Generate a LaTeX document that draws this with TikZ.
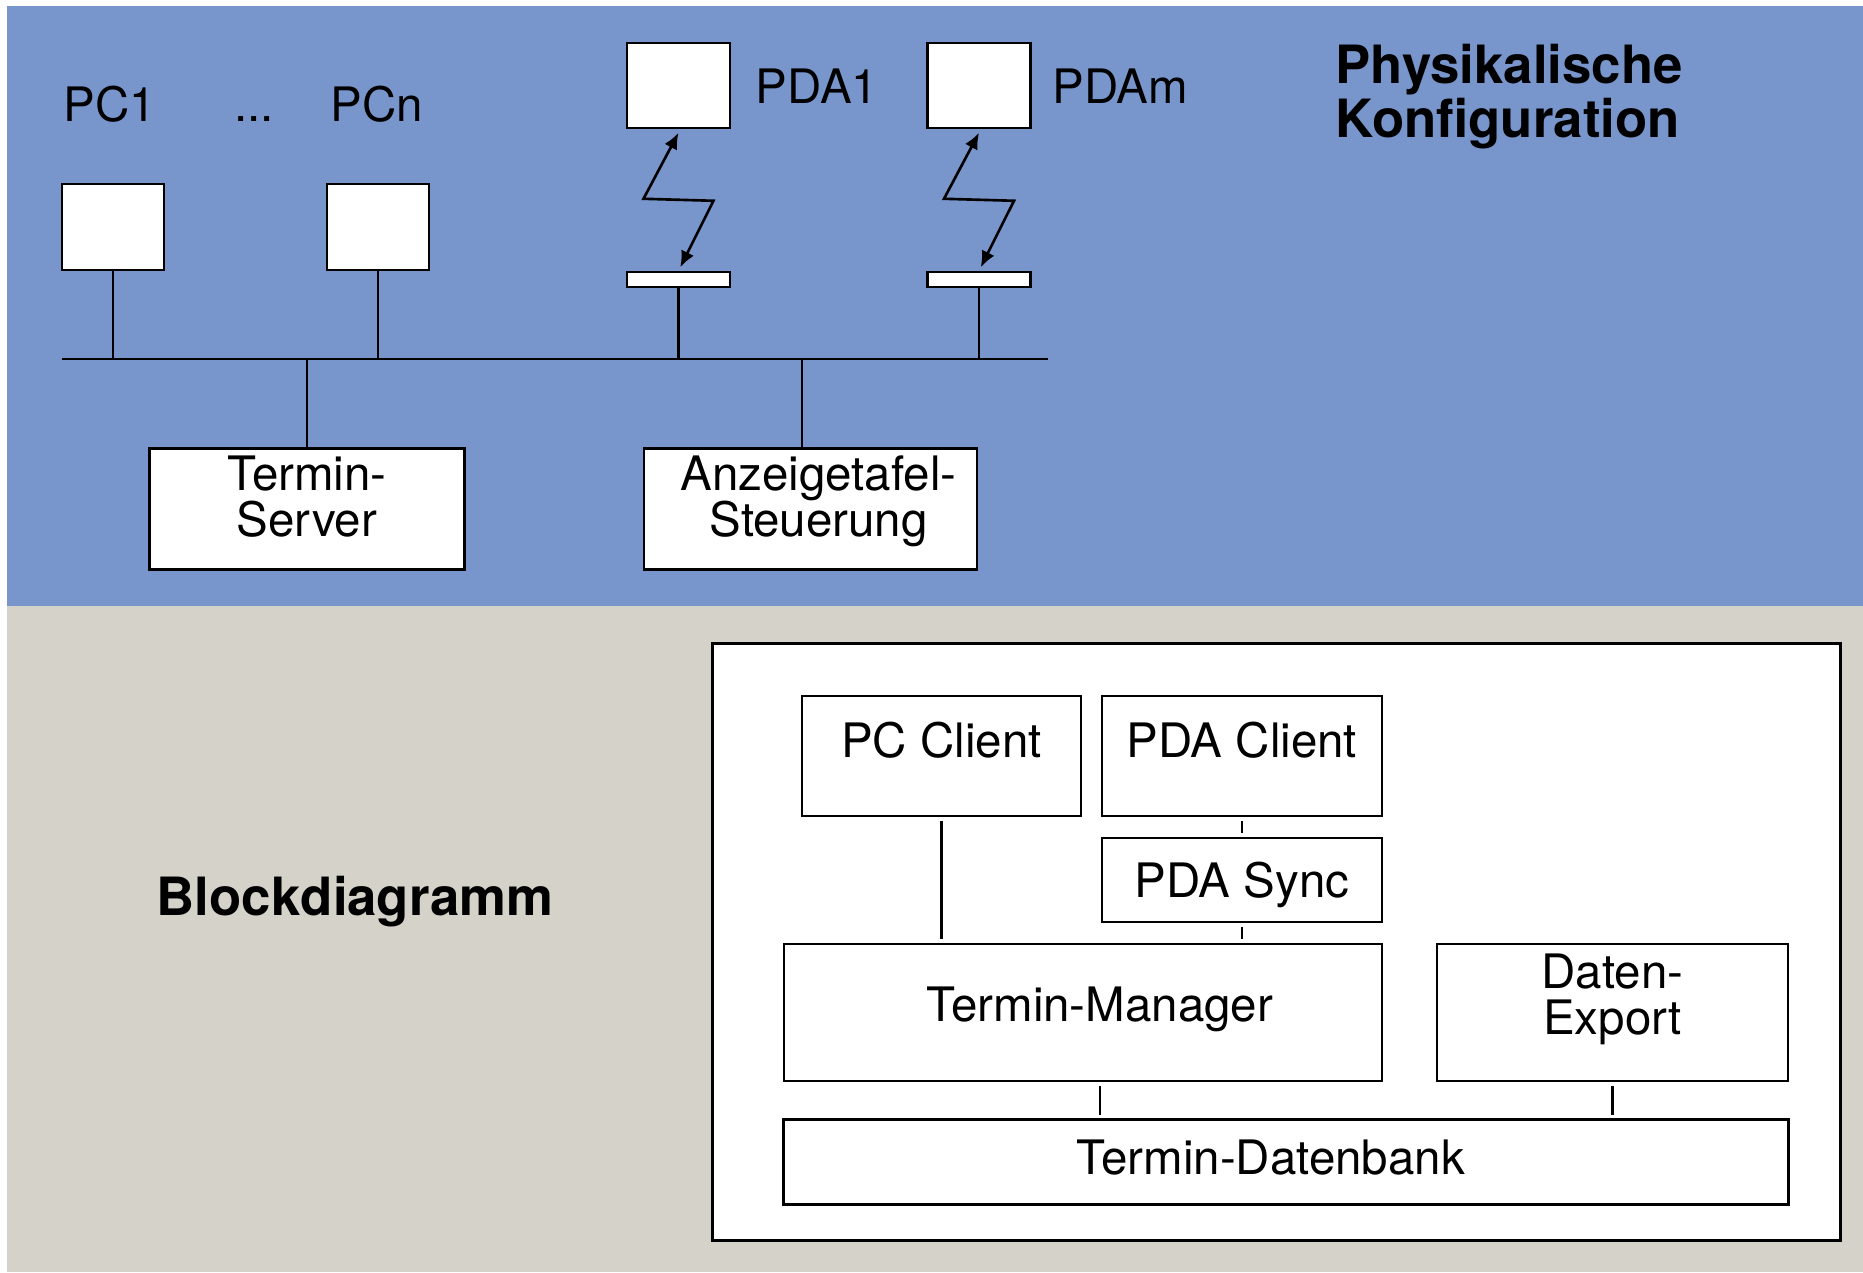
\documentclass[tikz,border=0pt]{standalone}
\usepackage{fontspec}
\setmainfont{TeX Gyre Heros}
\usetikzlibrary{arrows.meta}

\definecolor{physblue}{RGB}{120,149,204}
\definecolor{blockgrey}{RGB}{213,210,202}

\tikzset{
	box/.style={draw=black, fill=white, line width=0.7pt, inner sep=0pt},
	txt/.style={align=center, inner sep=0pt, font=\fontsize{13.5pt}{13.1pt}\selectfont},
	heading/.style={align=left, inner sep=0pt, font=\fontsize{15pt}{13.6pt}\selectfont\bfseries},
	wire/.style={line width=0.7pt},
	link/.style={line width=0.6pt, shorten <=1pt, shorten >=1pt},
	zap/.style={line width=0.75pt, {Latex[length=4.6pt,width=4pt]}-{Latex[length=4.6pt,width=4pt]}},
}

\begin{document}
\begin{tikzpicture}[x=0.01cm, y=-0.01cm]
	\useasboundingbox (0,0) rectangle (1863,1272);
	\fill[physblue]  (7,6)   rectangle (1863,606);
	\fill[blockgrey] (7,606) rectangle (1863,1272);

	% physikalische Konfiguration
	\node[txt, anchor=base] (pc1lab)  at (110,121)  {PC1};
	\node[txt, anchor=base] (dots)    at (254,121)  {...};
	\node[txt, anchor=base] (pcnlab)  at (377,121)  {PCn};
	\node[txt, anchor=base] (pda1lab) at (817,103)  {PDA1};
	\node[txt, anchor=base] (pdamlab) at (1120,103) {PDAm};
	\node[heading, anchor=north west] (phys) at (1335,43) {Physikalische\\Konfiguration};

	\node[box, minimum width=1.02cm, minimum height=0.86cm] (pc1)   at (113,227)     {};
	\node[box, minimum width=1.02cm, minimum height=0.86cm] (pcn)   at (378,227)     {};
	\node[box, minimum width=1.03cm, minimum height=0.85cm] (pda1)  at (678.5,85.5)  {};
	\node[box, minimum width=1.03cm, minimum height=0.85cm] (pdam)  at (979,85.5)    {};
	\node[box, minimum width=1.03cm, minimum height=0.15cm] (base1) at (678.5,279.5) {};
	\node[box, minimum width=1.03cm, minimum height=0.15cm] (basem) at (979,279.5)   {};

	\node[box, minimum width=3.15cm, minimum height=1.21cm,
		label={[txt, yshift=3.5pt]center:{Termin-\\Server}}] (ts) at (307,509) {};
	\node[box, minimum width=3.33cm, minimum height=1.21cm,
		label={[txt, xshift=2.3pt, yshift=2.1pt]center:{Anzeigetafel-\\Steuerung}}] (as) at (810.5,509) {};

	\coordinate (busw) at (62,359);
	\coordinate (buse) at (1048,359);
	\draw[wire] (busw) -- (buse);

	\draw[wire] (pc1) -- (pc1 |- busw);
	\draw[wire] (pcn) -- (pcn |- busw);
	\draw[wire] (base1) -- (base1 |- busw);
	\draw[wire] (basem) -- (basem |- busw);
	\draw[wire] (ts) -- (ts |- busw);
	\draw[wire] ([xshift=-2.4pt]as.north) -- ([xshift=-2.4pt]as.north |- busw);

	\draw[zap] ([yshift=-1pt]pda1.south) -- ++(-35,66) -- ++(70,2) -- ([xshift=0.5pt,yshift=1pt]base1.north);
	\draw[zap] ([yshift=-1pt]pdam.south) -- ++(-35,66) -- ++(70,2) -- ([xshift=0.5pt,yshift=1pt]basem.north);

	% Blockdiagramm
	\node[heading, anchor=base] (block) at (355,915) {Blockdiagramm};

	\node[box, line width=0.8pt, minimum width=11.27cm, minimum height=5.96cm] (frame) at (1276.5,942) {};

	\node[box, minimum width=2.79cm, minimum height=1.2cm,
		label={[txt, yshift=4.5pt]center:PC Client}] (pcc) at (941.5,756) {};
	\node[box, minimum width=2.8cm, minimum height=1.2cm,
		label={[txt, yshift=4.5pt]center:PDA Client}] (pdac) at (1242,756) {};
	\node[box, minimum width=2.8cm, minimum height=0.84cm,
		label={[txt, yshift=-1.4pt]center:PDA Sync}] (pdas) at (1242,880) {};
	\node[box, minimum width=5.98cm, minimum height=1.37cm,
		label={[txt, xshift=4.8pt, yshift=1pt]center:Termin-Manager}] (tm) at (1083,1012.5) {};
	\node[box, minimum width=3.51cm, minimum height=1.37cm,
		label={[txt, yshift=3.8pt]center:{Daten-\\Export}}] (de) at (1612.5,1012.5) {};
	\node[box, minimum width=10.04cm, minimum height=0.85cm,
		label={[txt, xshift=-4.3pt, yshift=1.4pt]center:Termin-Datenbank}] (td) at (1286,1162) {};

	\draw[link] (pcc) -- (pcc |- tm.north);
	\draw[link] (pdac) -- (pdas);
	\draw[link] (pdas) -- (pdas |- tm.north);
	\draw[link] ([xshift=4.8pt]tm.south) -- ([xshift=4.8pt]tm.south |- td.north);
	\draw[link] (de) -- (de |- td.north);

\end{tikzpicture}
\end{document}
